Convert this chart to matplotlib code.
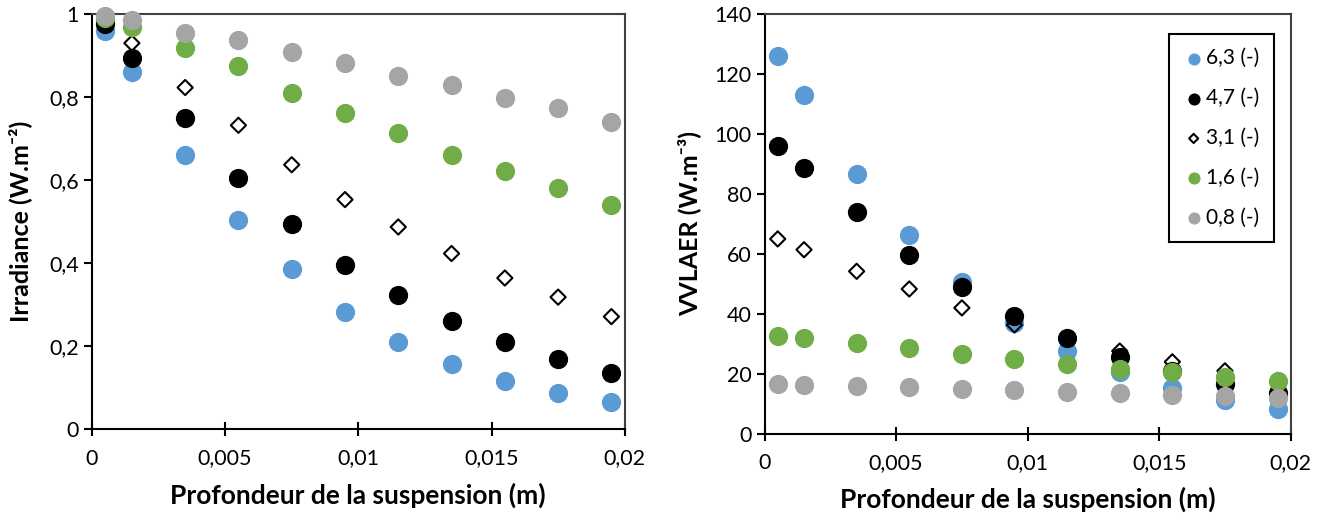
import numpy as np
import matplotlib
matplotlib.use('Agg')
import matplotlib.pyplot as plt
from matplotlib.ticker import FuncFormatter, MultipleLocator

plt.rcParams['font.family'] = ['Lato', 'DejaVu Sans']

# depth (m)
depth = [0.0005, 0.0015, 0.0035, 0.0055, 0.0075, 0.0095,
         0.0115, 0.0135, 0.0155, 0.0175, 0.0195]

labels = ['6,3 (-)', '4,7 (-)', '3,1 (-)', '1,6 (-)', '0,8 (-)']

# irradiance (W.m-2)
irr_63 = [0.96, 0.86, 0.66, 0.505, 0.385, 0.283, 0.21, 0.157, 0.117, 0.088, 0.065]
irr_47 = [0.975, 0.895, 0.75, 0.606, 0.493, 0.396, 0.323, 0.26, 0.211, 0.168, 0.135]
irr_31 = [0.985, 0.93, 0.823, 0.732, 0.637, 0.553, 0.487, 0.423, 0.364, 0.318, 0.271]
irr_16 = [0.99, 0.97, 0.918, 0.874, 0.81, 0.762, 0.714, 0.661, 0.621, 0.58, 0.54]
irr_08 = [0.995, 0.985, 0.955, 0.937, 0.908, 0.882, 0.852, 0.829, 0.797, 0.773, 0.739]

# VVLAER (W.m-3)
vv_63 = [126, 113, 86.7, 66.3, 50.6, 36.8, 27.7, 20.6, 15.3, 11.4, 8.4]
vv_47 = [96, 88.5, 74, 59.8, 48.8, 39.2, 32, 25.7, 20.9, 16.5, 13.5]
vv_31 = [65, 61.4, 54.2, 48.3, 42, 36.3, 31.8, 27.6, 24, 21, 17.8]
vv_16 = [32.6, 32, 30.2, 28.7, 26.6, 25, 23.3, 21.7, 20.5, 19.1, 17.6]
vv_08 = [16.5, 16.3, 15.9, 15.5, 15, 14.6, 14.1, 13.6, 13.1, 12.6, 12.1]

blue = '#5B9BD5'
green = '#70AD47'
gray = '#A5A5A5'

def comma(v, pos):
    return ('%g' % v).replace('.', ',')

def draw_series(ax, ys):
    styles = [
        dict(color=blue, marker='o', s=165),
        dict(color='black', marker='o', s=165),
        dict(facecolor='none', edgecolor='black', marker='D', s=60, linewidths=1.5),
        dict(color=green, marker='o', s=165),
        dict(color=gray, marker='o', s=165),
    ]
    for y, st, lab in zip(ys, styles, labels):
        ax.scatter(depth, y, label=lab, zorder=3, clip_on=False, **st)

def style_axes(ax):
    ax.set_xlim(0, 0.02)
    ax.xaxis.set_major_locator(MultipleLocator(0.005))
    ax.xaxis.set_major_formatter(FuncFormatter(comma))
    ax.yaxis.set_major_formatter(FuncFormatter(comma))
    for sp in ax.spines.values():
        sp.set_color('#404040')
        sp.set_linewidth(1.5)
    ax.spines['left'].set_color('black')
    ax.spines['bottom'].set_color('black')
    ax.tick_params(axis='x', direction='inout', length=10, width=1.5, labelsize=15.5, pad=9)
    ax.tick_params(axis='y', direction='out', length=6, width=1.5, labelsize=15.5)
    ax.set_xlabel('Profondeur de la suspension (m)', fontsize=19, fontweight='bold', labelpad=10)

fig = plt.figure(figsize=(13.32, 5.22), dpi=100)
ax1 = fig.add_axes([0.069, 0.178, 0.400, 0.795])
ax2 = fig.add_axes([0.574, 0.169, 0.395, 0.804])

draw_series(ax1, [irr_63, irr_47, irr_31, irr_16, irr_08])
style_axes(ax1)
ax1.set_ylim(0, 1)
ax1.yaxis.set_major_locator(MultipleLocator(0.2))
ax1.set_ylabel('Irradiance (W.m\u207b\u00b2)', fontsize=18, fontweight='bold', labelpad=12)

draw_series(ax2, [vv_63, vv_47, vv_31, vv_16, vv_08])
style_axes(ax2)
ax2.set_ylim(0, 140)
ax2.yaxis.set_major_locator(MultipleLocator(20))
ax2.set_ylabel('VVLAER (W.m\u207b\u00b3)', fontsize=18, fontweight='bold', labelpad=9)

leg = ax2.legend(loc='upper right', bbox_to_anchor=(0.988, 0.978), fontsize=15,
                 markerscale=0.6, handletextpad=0.1, labelspacing=0.95,
                 handlelength=1.0, borderpad=0.7, fancybox=False,
                 edgecolor='black', framealpha=1)
leg.get_frame().set_linewidth(1.5)

fig.savefig('out.png', dpi=100)
